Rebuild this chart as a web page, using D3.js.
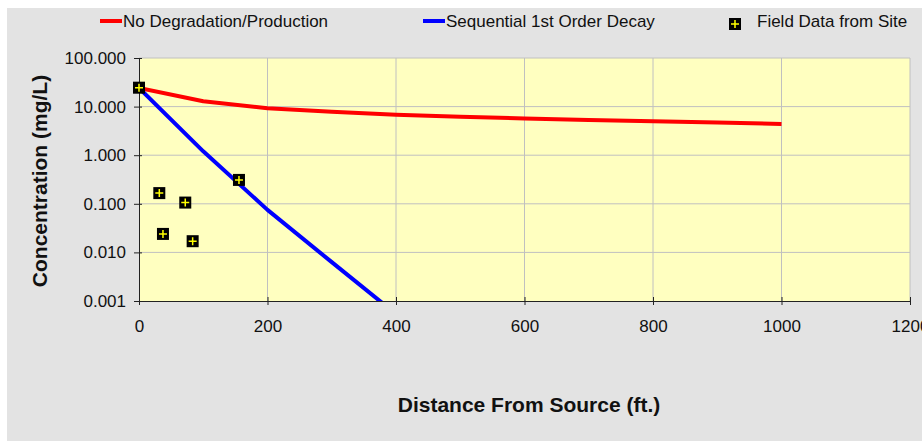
<!DOCTYPE html>
<html>
<head>
<meta charset="utf-8">
<script src="https://cdn.jsdelivr.net/npm/d3@7"></script>
<style>
  html, body { margin: 0; padding: 0; background: #ffffff; }
  svg { display: block; }
  text { font-family: "Liberation Sans", Arial, sans-serif; }
</style>
</head>
<body>
<svg id="chart" width="922" height="441"></svg>
<script>
// Distance from source (ft.)
const distances = [0, 100, 200, 300, 400, 500, 600, 700, 800, 900, 1000];
// Model: no degradation / production (mg/L)
const noDegradation = [24.3, 12.9, 9.2, 7.8, 6.8, 6.2, 5.7, 5.3, 5.0, 4.7, 4.4];
// Model: sequential 1st order decay (mg/L)
const decayDistances = [0, 100, 200, 300, 400];
const sequentialDecay = [24.3, 1.2, 0.075, 0.0063, 0.00054];
// Field data from site
const fieldDistance = [0, 31.6, 37.3, 72, 83.5, 155.6];
const fieldConc = [24.5, 0.166, 0.024, 0.106, 0.017, 0.31];

const xTicks = [0, 200, 400, 600, 800, 1000, 1200];
const yTicks = [0.001, 0.01, 0.1, 1, 10, 100];
const seriesNames = ["No Degradation/Production", "Sequential 1st Order Decay", "Field Data from Site"];

const svg = d3.select("#chart");
const W = 922, H = 441;

// chart background
svg.append("rect").attr("x", 7).attr("y", 8).attr("width", W - 7).attr("height", H - 8)
  .attr("fill", "#e3e3e3");

const plot = { left: 139, right: 910, top: 58, bottom: 301 };
const x = d3.scaleLinear().domain([0, 1200]).range([plot.left, plot.right]);
const y = d3.scaleLog().domain([0.001, 100]).range([plot.bottom, plot.top]);

svg.append("rect").attr("x", plot.left).attr("y", plot.top)
  .attr("width", plot.right - plot.left).attr("height", plot.bottom - plot.top)
  .attr("fill", "#ffffc0");

// gridlines
const grid = svg.append("g").attr("stroke", "#c0c0c0").attr("stroke-width", 1);
grid.selectAll("line.v").data(xTicks.slice(1)).join("line")
  .attr("x1", d => x(d)).attr("x2", d => x(d)).attr("y1", plot.top).attr("y2", plot.bottom);
grid.selectAll("line.h").data(yTicks.slice(1)).join("line")
  .attr("x1", plot.left).attr("x2", plot.right).attr("y1", d => y(d)).attr("y2", d => y(d));

// axes
const xAxis = d3.axisBottom(x).tickValues(xTicks).tickSize(5).tickSizeOuter(0)
  .tickFormat(d3.format("d"));
const gx = svg.append("g").attr("transform", `translate(0,${plot.bottom})`).call(xAxis);
gx.select(".domain").attr("stroke", "#222");
gx.selectAll(".tick line").attr("stroke", "#222").attr("y1", -4).attr("y2", 4);
gx.selectAll(".tick text").attr("font-size", 17).attr("fill", "#111").attr("dy", "1.35em")
  .attr("font-family", "Liberation Sans, Arial, sans-serif");

const yAxis = d3.axisLeft(y).tickValues(yTicks).tickSize(5).tickSizeOuter(0)
  .tickFormat(d3.format(".3f"));
const gy = svg.append("g").attr("transform", `translate(${plot.left},0)`).call(yAxis);
gy.select(".domain").attr("stroke", "#222");
gy.selectAll(".tick line").attr("stroke", "#222").attr("x1", -5).attr("x2", 3);
gy.selectAll(".tick text").attr("font-size", 17).attr("fill", "#111").attr("x", -13)
  .attr("font-family", "Liberation Sans, Arial, sans-serif");

// clip for series
svg.append("clipPath").attr("id", "plotClip").append("rect")
  .attr("x", plot.left).attr("y", plot.top)
  .attr("width", plot.right - plot.left).attr("height", plot.bottom - plot.top);

const line = d3.line().x(d => x(d[0])).y(d => y(d[1]));
const series = svg.append("g").attr("clip-path", "url(#plotClip)");
series.append("path").datum(d3.zip(distances, noDegradation))
  .attr("d", line).attr("fill", "none").attr("stroke", "#ff0000").attr("stroke-width", 4)
  .attr("stroke-linejoin", "round");
series.append("path").datum(d3.zip(decayDistances, sequentialDecay))
  .attr("d", line).attr("fill", "none").attr("stroke", "#0000ff").attr("stroke-width", 4)
  .attr("stroke-linejoin", "round");

function marker(g, cx, cy) {
  g.append("rect").attr("x", cx - 6).attr("y", cy - 6).attr("width", 12).attr("height", 12)
    .attr("fill", "#000");
  g.append("path").attr("d", `M${cx - 4},${cy}H${cx + 4}M${cx},${cy - 4}V${cy + 4}`)
    .attr("stroke", "#ffff00").attr("stroke-width", 1.5);
}
const pts = svg.append("g");
d3.zip(fieldDistance, fieldConc).forEach(d => marker(pts, x(d[0]), y(d[1])));

// axis titles
svg.append("text").attr("x", 529).attr("y", 412).attr("text-anchor", "middle")
  .attr("font-size", 21).attr("font-weight", "bold").attr("fill", "#111")
  .text("Distance From Source (ft.)");
svg.append("text").attr("transform", "translate(47,181) rotate(-90)").attr("text-anchor", "middle")
  .attr("font-size", 21).attr("font-weight", "bold").attr("fill", "#111")
  .text("Concentration (mg/L)");

// legend
const lg = svg.append("g").attr("font-size", 17).attr("fill", "#111");
lg.append("line").attr("x1", 100).attr("x2", 122).attr("y1", 21).attr("y2", 21)
  .attr("stroke", "#ff0000").attr("stroke-width", 4);
lg.append("text").attr("x", 123).attr("y", 27).text(seriesNames[0]);
lg.append("line").attr("x1", 423).attr("x2", 445).attr("y1", 21).attr("y2", 21)
  .attr("stroke", "#0000ff").attr("stroke-width", 4);
lg.append("text").attr("x", 446).attr("y", 27).text(seriesNames[1]);
marker(lg, 735, 24);
lg.append("text").attr("x", 757).attr("y", 27).text(seriesNames[2]);
</script>
</body>
</html>
